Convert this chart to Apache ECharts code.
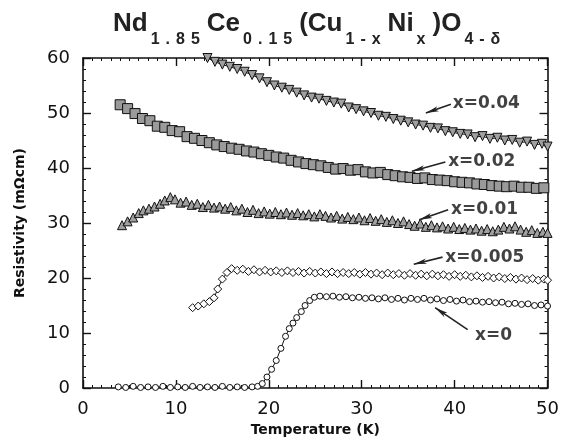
<!DOCTYPE html>
<html><head><meta charset="utf-8">
<script src="https://cdn.jsdelivr.net/npm/echarts@6/dist/echarts.min.js"></script>
<style>html,body{margin:0;padding:0;background:#fff}#c{width:562px;height:448px}</style>
</head><body><div id="c"></div>
<script>
// Temperature (K), Resistivity (mOhm cm) pairs for each Ni content
const s_x0 = [[3.8,0.2],[4.6,0.1],[5.4,0.3],[6.2,0.1],[7.0,0.2],[7.8,0.1],[8.6,0.3],[9.4,0.1],[10.2,0.2],[11.0,0.1],[11.8,0.3],[12.6,0.1],[13.4,0.2],[14.2,0.1],[15.0,0.3],[15.8,0.1],[16.6,0.2],[17.4,0.1],[18.2,0.2],[18.8,0.3],[19.3,0.8],[19.8,2.0],[20.3,3.4],[20.8,5.0],[21.3,7.2],[21.8,9.4],[22.2,10.8],[22.6,11.8],[23.0,12.8],[23.5,13.9],[23.9,15.0],[24.4,15.9],[24.9,16.5],[25.5,16.7],[26.2,16.6],[26.9,16.7],[27.6,16.5],[28.3,16.6],[29.0,16.4],[29.7,16.5],[30.4,16.3],[31.1,16.4],[31.8,16.2],[32.5,16.4],[33.2,16.1],[33.9,16.3],[34.6,16.0],[35.3,16.3],[36.0,16.1],[36.7,16.3],[37.4,16.0],[38.1,16.2],[38.8,15.9],[39.5,16.1],[40.2,15.8],[40.9,16.0],[41.6,15.7],[42.3,15.8],[43.0,15.6],[43.7,15.7],[44.4,15.5],[45.1,15.6],[45.8,15.3],[46.5,15.4],[47.2,15.2],[47.9,15.3],[48.6,15.0],[49.3,15.1],[50.0,14.9]];
const s_x0005 = [[11.8,14.6],[12.4,14.9],[13.0,15.3],[13.6,15.7],[14.1,16.4],[14.5,18.0],[15.0,19.8],[15.5,21.0],[16.0,21.7],[16.6,21.4],[17.2,21.6],[17.8,21.2],[18.4,21.5],[19.0,21.1],[19.6,21.4],[20.2,21.1],[20.8,21.3],[21.4,21.0],[22.0,21.3],[22.6,21.0],[23.2,21.2],[23.8,20.9],[24.4,21.2],[25.0,20.9],[25.6,21.1],[26.2,20.8],[26.8,21.1],[27.4,20.8],[28.0,21.0],[28.6,20.8],[29.2,21.0],[29.8,20.7],[30.4,21.0],[31.0,20.7],[31.6,20.9],[32.2,20.6],[32.8,20.9],[33.4,20.6],[34.0,20.8],[34.6,20.5],[35.2,20.8],[35.8,20.5],[36.4,20.7],[37.0,20.4],[37.6,20.7],[38.2,20.4],[38.8,20.6],[39.4,20.3],[40.0,20.6],[40.6,20.3],[41.2,20.5],[41.8,20.2],[42.4,20.4],[43.0,20.1],[43.6,20.3],[44.2,20.0],[44.8,20.2],[45.4,19.9],[46.0,20.1],[46.6,19.8],[47.2,20.0],[47.8,19.7],[48.4,19.9],[49.0,19.6],[49.6,19.8],[50.0,19.6]];
const s_x001 = [[4.2,29.6],[4.8,30.3],[5.4,31.0],[6.0,31.8],[6.5,32.3],[7.1,32.6],[7.7,33.0],[8.3,33.5],[8.8,34.1],[9.4,34.7],[9.9,34.3],[10.5,33.7],[11.1,33.9],[11.7,33.3],[12.3,33.5],[12.9,32.9],[13.5,33.3],[14.1,32.8],[14.7,33.0],[15.3,32.6],[15.9,32.9],[16.5,32.3],[17.1,32.6],[17.7,32.0],[18.3,32.4],[18.9,31.8],[19.5,32.1],[20.1,31.7],[20.7,32.0],[21.3,31.6],[21.9,31.9],[22.5,31.5],[23.1,31.8],[23.7,31.4],[24.3,31.6],[24.9,31.2],[25.5,31.6],[26.1,31.3],[26.7,31.0],[27.3,31.3],[27.9,30.8],[28.5,31.1],[29.1,30.7],[29.7,31.0],[30.3,30.5],[30.9,30.9],[31.5,30.4],[32.1,30.7],[32.7,30.2],[33.3,30.5],[33.9,30.0],[34.5,30.3],[35.1,29.8],[35.7,29.5],[36.3,29.9],[36.9,29.3],[37.5,29.6],[38.1,29.2],[38.7,29.4],[39.3,29.0],[39.9,29.3],[40.5,28.9],[41.1,29.1],[41.7,28.8],[42.3,29.0],[42.9,28.6],[43.5,28.9],[44.1,28.5],[44.7,28.8],[45.3,29.3],[45.9,29.0],[46.5,29.4],[47.1,28.8],[47.7,28.4],[48.3,28.7],[48.9,28.2],[49.5,28.4],[50.0,28.2]];
const s_x002 = [[4.0,51.5],[4.8,50.8],[5.6,49.9],[6.4,49.0],[7.2,48.6],[8.0,47.6],[8.8,47.4],[9.6,46.8],[10.4,46.6],[11.2,45.7],[12.0,45.4],[12.8,45.0],[13.6,44.6],[14.4,44.2],[15.2,43.9],[16.0,43.6],[16.8,43.4],[17.6,43.1],[18.4,42.9],[19.2,42.6],[20.0,42.3],[20.8,42.0],[21.6,41.8],[22.4,41.4],[23.2,41.1],[24.0,40.8],[24.8,40.6],[25.6,40.4],[26.4,40.1],[27.2,39.8],[28.0,39.9],[28.8,39.6],[29.6,39.7],[30.4,39.3],[31.2,39.1],[32.0,39.2],[32.8,38.8],[33.6,38.6],[34.4,38.4],[35.2,38.3],[36.0,38.1],[36.8,38.2],[37.6,37.9],[38.4,37.8],[39.2,37.7],[40.0,37.5],[40.8,37.4],[41.6,37.3],[42.4,37.1],[43.2,37.0],[44.0,36.8],[44.8,36.7],[45.6,36.6],[46.4,36.7],[47.2,36.5],[48.0,36.5],[48.8,36.3],[49.6,36.4]];
const s_x004 = [[13.4,60.0],[14.2,59.3],[15.0,58.8],[15.8,58.4],[16.6,58.0],[17.4,57.5],[18.2,56.9],[19.0,56.3],[19.8,55.6],[20.6,55.0],[21.4,54.6],[22.2,54.2],[23.0,53.7],[23.8,53.2],[24.6,52.8],[25.4,52.6],[26.2,52.2],[27.0,51.9],[27.8,51.7],[28.6,51.0],[29.4,50.7],[30.2,50.3],[31.0,50.0],[31.8,49.5],[32.6,49.3],[33.4,48.9],[34.2,48.6],[35.0,48.3],[35.8,47.9],[36.6,47.7],[37.4,47.3],[38.2,47.2],[39.0,46.7],[39.8,46.5],[40.6,46.2],[41.4,46.1],[42.2,45.6],[43.0,45.8],[43.8,45.3],[44.6,45.5],[45.4,45.0],[46.2,45.1],[47.0,44.6],[47.8,44.8],[48.6,44.2],[49.4,44.4],[50.0,43.9]];

// annotation labels and where they sit (data coords), plus arrow tail/head
const annoLabels = ['x=0.04','x=0.02','x=0.01','x=0.005','x=0'];
const annoPos = [[39.8,51.8],[39.3,41.1],[39.6,32.4],[39.0,23.8],[42.2,9.6]];
const arrowTail = [[39.6,51.6],[39.0,41.1],[39.3,32.4],[38.7,23.8],[41.4,10.6]];
const arrowHead = [[36.9,50.0],[35.4,39.4],[36.2,30.6],[35.6,22.5],[37.9,14.6]];

const xTicks = [0,10,20,30,40,50];
const yTicks = [0,10,20,30,40,50,60];

// title pieces: [text, isSubscript]
const titleParts = [['Nd',0],['1.85',1],['Ce',0],['0.15',1],['(Cu',0],['1-x',1],['Ni',0],['x',1],[')O',0],['4-δ',1]];

const chart = echarts.init(document.getElementById('c'), null, {renderer:'canvas'});
const axisCommon = {
  axisLine:{show:true, onZero:false, lineStyle:{color:'#111', width:1.6}},
  axisTick:{show:true, inside:true, length:8, lineStyle:{color:'#111', width:1.4}},
  splitLine:{show:false}
};
const lineSeries = (name, data, symbol, size, fill, rotate) => ({
  name, type:'line', data, symbol, symbolSize:size, symbolRotate:rotate||0,
  lineStyle:{color:'#111', width:1}, clip:true,
  itemStyle:{color:fill, borderColor:'#111', borderWidth:1},
  animation:false, z:3
});
const titleText = titleParts.map(([t,sub]) => sub
  ? t.split('').map(ch => '{s|' + ch + '}').join('') + '{g|}'
  : '{b|' + t + '}').join('');

chart.setOption({
  backgroundColor:'#fff',
  animation:false,
  title:{
    left:108, top:6,
    text:titleText,
    textStyle:{
      rich:{
        b:{fontFamily:'Liberation Sans', fontSize:26, fontWeight:'bold', color:'#222', lineHeight:30, verticalAlign:'top'},
        s:{fontFamily:'Liberation Sans', fontSize:16, fontWeight:'bold', color:'#222', lineHeight:18, verticalAlign:'bottom', padding:[0,3,0,3]},
        g:{width:4, lineHeight:37, verticalAlign:'bottom'}
      }
    }
  },
  grid:{left:83, right:14, top:58, bottom:60},
  xAxis:[
    Object.assign({type:'value', min:xTicks[0], max:xTicks[xTicks.length-1], interval:10, position:'bottom',
      name:'Temperature (K)', nameLocation:'middle', nameGap:30,
      nameTextStyle:{fontFamily:'DejaVu Sans', fontWeight:'bold', fontSize:14, color:'#111'},
      axisLabel:{fontFamily:'DejaVu Sans', fontSize:18, color:'#111', margin:12}}, axisCommon,
      {minorTick:{show:true, splitNumber:10, length:3, lineStyle:{color:'#111', width:1}}}),
    Object.assign({type:'value', min:0, max:50, interval:10, position:'top', axisLabel:{show:false}}, axisCommon,
      {minorTick:{show:true, splitNumber:10, length:3, lineStyle:{color:'#111', width:1}}})
  ],
  yAxis:[
    Object.assign({type:'value', min:yTicks[0], max:yTicks[yTicks.length-1], interval:10, position:'left',
      name:'Resistivity (mΩcm)', nameLocation:'middle', nameGap:56, nameRotate:90,
      nameTextStyle:{fontFamily:'DejaVu Sans', fontWeight:'bold', fontSize:14, color:'#111'},
      axisLabel:{fontFamily:'DejaVu Sans', fontSize:18, color:'#111', margin:13}}, axisCommon,
      {minorTick:{show:true, splitNumber:5, length:3, lineStyle:{color:'#111', width:1}}}),
    Object.assign({type:'value', min:0, max:60, interval:10, position:'right', axisLabel:{show:false}}, axisCommon,
      {minorTick:{show:true, splitNumber:5, length:3, lineStyle:{color:'#111', width:1}}})
  ],
  series:[
    lineSeries('x=0', s_x0, 'circle', 6, '#fff'),
    lineSeries('x=0.005', s_x0005, 'diamond', 8, '#fff'),
    lineSeries('x=0.01', s_x001, 'triangle', 9, '#a0a0a0'),
    lineSeries('x=0.02', s_x002, 'rect', 10, '#9a9a9a'),
    lineSeries('x=0.04', s_x004, 'triangle', 9, '#a0a0a0', 180),
    {
      name:'annotations', type:'scatter', symbolSize:0, animation:false, silent:true, z:5,
      data: annoLabels.map((t,i)=>({name:t, value:annoPos[i]})),
      label:{show:true, position:'right', distance:0, formatter:p=>p.name,
        fontFamily:'DejaVu Sans', fontWeight:'bold', fontSize:17, color:'#111'},
      markLine:{
        silent:true, animation:false, symbol:['none','arrow'], symbolSize:[4,13],
        label:{show:false}, lineStyle:{color:'#222', width:1.6, type:'solid'},
        data: arrowTail.map((t,i)=>[{coord:t},{coord:arrowHead[i]}])
      }
    }
  ]
});
</script></body></html>
